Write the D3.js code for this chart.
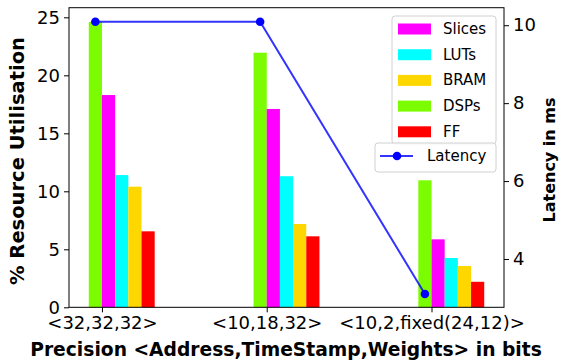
<!DOCTYPE html>
<html>
<head>
<script src="https://d3js.org/d3.v7.min.js"></script>
<style>
  body { margin: 0; background: #fff; }
  text { font-family: "DejaVu Sans", sans-serif; fill: #000; }
</style>
</head>
<body>
<svg width="561" height="362"></svg>
<script>
// data
var groups = ["<32,32,32>", "<10,18,32>", "<10,2,fixed(24,12)>"];
var series = ["DSPs", "Slices", "LUTs", "BRAM", "FF"];
var dsps   = [24.6, 21.95, 10.95];
var slices = [18.3, 17.1, 5.86];
var luts   = [11.4, 11.3, 4.25];
var bram   = [10.4, 7.18, 3.56];
var ff     = [6.55, 6.12, 2.2];
var latency = [10.09, 10.09, 3.1];
var leftTicks = [0, 5, 10, 15, 20, 25];
var rightTicks = [4, 6, 8, 10];
var legendOrder = ["Slices", "LUTs", "BRAM", "DSPs", "FF"];

var colors = {DSPs: "#7cfc00", Slices: "#ff00ff", LUTs: "#00ffff", BRAM: "#ffd700", FF: "#ff0000"};
var values = {DSPs: dsps, Slices: slices, LUTs: luts, BRAM: bram, FF: ff};

var svg = d3.select("svg");
var pLeft = 69, pRight = 504, pTop = 7.7, pBottom = 307.3;
var w = 0.08;

var x = d3.scaleLinear().domain([-0.2, 2.44]).range([pLeft, pRight]);
var y = d3.scaleLinear().domain([0, 25.83]).range([pBottom, pTop]);
var y2 = d3.scaleLinear().domain([2.76, 10.45]).range([pBottom, pTop]);

// bars: DSPs sit left of the tick, the rest to the right
var bars = svg.append("g");
series.forEach(function(s, k) {
  bars.selectAll(null)
    .data(values[s])
    .enter().append("rect")
    .attr("x", function(d, i) { return x(i + (k - 1) * w); })
    .attr("width", x(w) - x(0))
    .attr("y", function(d) { return y(d); })
    .attr("height", function(d) { return y(0) - y(d); })
    .style("fill", colors[s]);
});

// axes
var gx = svg.append("g").attr("transform", "translate(0," + pBottom + ")")
  .call(d3.axisBottom(x).tickValues([0, 1, 2]).tickFormat(function(d) { return groups[d]; })
    .tickSizeOuter(0).tickSize(5).tickPadding(4));
var gy = svg.append("g").attr("transform", "translate(" + pLeft + ",0)")
  .call(d3.axisLeft(y).tickValues(leftTicks).tickSizeOuter(0).tickSize(5).tickPadding(4));
var gy2 = svg.append("g").attr("transform", "translate(" + pRight + ",0)")
  .call(d3.axisRight(y2).tickValues(rightTicks).tickSizeOuter(0).tickSize(5).tickPadding(4));

[gx, gy, gy2].forEach(function(g) {
  g.select(".domain").remove();
  g.selectAll("text").style("font-size", "18px").style("font-family", "DejaVu Sans").attr("fill", "#000");
  g.selectAll("line").attr("stroke", "#000");
});

// frame
svg.append("rect")
  .attr("x", pLeft).attr("y", pTop)
  .attr("width", pRight - pLeft).attr("height", pBottom - pTop)
  .style("fill", "none").style("stroke", "#000").style("stroke-width", 1);

// latency line
var line = d3.line()
  .x(function(d, i) { return x(i - w / 2); })
  .y(function(d) { return y2(d); });
svg.append("path").datum(latency)
  .attr("d", line)
  .style("fill", "none").style("stroke", "#0000ff").style("stroke-opacity", 0.8).style("stroke-width", 2);
svg.selectAll(".dot").data(latency).enter().append("circle")
  .attr("cx", function(d, i) { return x(i - w / 2); })
  .attr("cy", function(d) { return y2(d); })
  .attr("r", 4.3)
  .style("fill", "#0000ff");

// axis labels
svg.append("text")
  .attr("transform", "translate(24,161) rotate(-90)")
  .attr("text-anchor", "middle")
  .style("font-size", "19.5px").style("font-weight", "bold")
  .text("% Resource Utilisation");
svg.append("text")
  .attr("transform", "translate(555,160) rotate(-90)")
  .attr("text-anchor", "middle")
  .style("font-size", "16px").style("font-weight", "bold")
  .text("Latency in ms");
svg.append("text")
  .attr("x", 286).attr("y", 356)
  .attr("text-anchor", "middle")
  .style("font-size", "18.7px").style("font-weight", "bold")
  .text("Precision <Address,TimeStamp,Weights> in bits");

// bar legend
var lg = svg.append("g");
lg.append("rect")
  .attr("x", 392).attr("y", 16).attr("width", 104).attr("height", 128).attr("rx", 3)
  .style("fill", "#fff").style("fill-opacity", 0.8).style("stroke", "#d0d0d0");
legendOrder.forEach(function(s, i) {
  var yy = 29 + i * 25.7;
  lg.append("rect").attr("x", 398).attr("y", yy - 5.5).attr("width", 33).attr("height", 11)
    .style("fill", colors[s]);
  lg.append("text").attr("x", 443).attr("y", yy + 5).style("font-size", "15px").text(s);
});

// latency legend
var lg2 = svg.append("g");
lg2.append("rect")
  .attr("x", 375).attr("y", 143).attr("width", 121).attr("height", 29).attr("rx", 3)
  .style("fill", "#fff").style("fill-opacity", 0.8).style("stroke", "#d0d0d0");
lg2.append("line").attr("x1", 380).attr("x2", 413).attr("y1", 156).attr("y2", 156)
  .style("stroke", "#0000ff").style("stroke-opacity", 0.8).style("stroke-width", 2);
lg2.append("circle").attr("cx", 397).attr("cy", 156).attr("r", 4.3).style("fill", "#0000ff");
lg2.append("text").attr("x", 427).attr("y", 161).style("font-size", "15px").text("Latency");
</script>
</body>
</html>
